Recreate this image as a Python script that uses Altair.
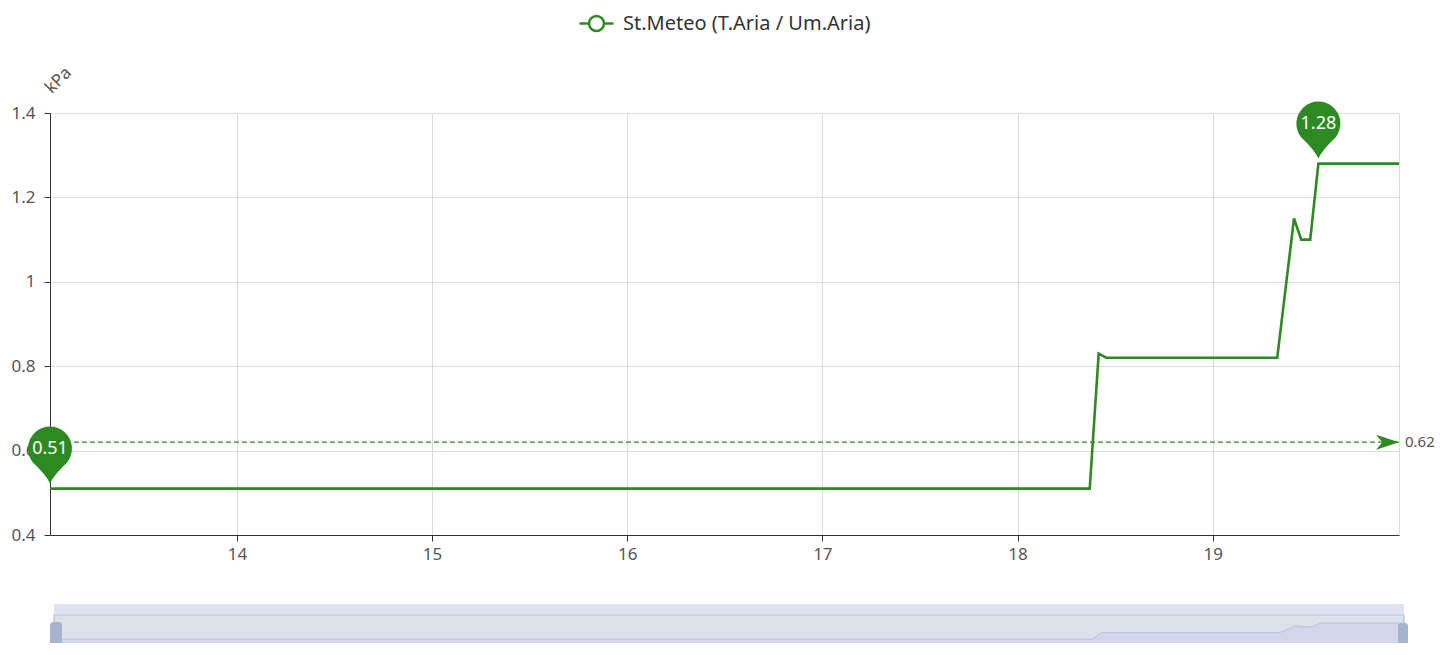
import altair as alt
import pandas as pd

# ---- data ----
series_name = ["St.Meteo (T.Aria / Um.Aria)"]
day = [13.042, 18.370, 18.416, 18.455, 19.331, 19.417, 19.454, 19.500, 19.542, 19.955]
vpd = [0.51, 0.51, 0.83, 0.82, 0.82, 1.15, 1.10, 1.10, 1.28, 1.28]
avg_value = [0.62]
x_ticks = [14, 15, 16, 17, 18, 19]
y_ticks = [0.4, 0.6, 0.8, 1.0, 1.2, 1.4]
y_unit = "kPa"

GREEN = "#2d8a22"
FONT = "Noto Sans"
W, H = 1349, 422

df = pd.DataFrame({"t": day, "v": vpd, "s": series_name * len(day)})
avg_df = pd.DataFrame({"t0": [day[0]], "t1": [day[-1]], "v": avg_value,
                       "lab": [f"{a:.2f}" for a in avg_value]})
one = pd.DataFrame({"a": [0]})

xs = alt.Scale(domain=[day[0], day[-1]], nice=False, zero=False)
ys = alt.Scale(domain=[y_ticks[0], y_ticks[-1]], nice=False, zero=False)

PIN = ("M0,-0.23 Q-0.15,-0.6 -0.777,-1.19 A1,1 0 1 1 0.777,-1.19 "
       "Q0.15,-0.6 0,-0.23 Z")
ARROW = "M0,0 L-2,-0.65 L-1.45,0 L-2,0.65 Z"
LEG = ("M-1,0 L-0.44,0 M0.44,0 L1,0 M0.44,0 A0.44,0.44 0 1 1 -0.44,0 "
       "A0.44,0.44 0 1 1 0.44,0")

line = alt.Chart(df).mark_line(strokeWidth=2.6).encode(
    x=alt.X("t:Q", scale=xs, axis=alt.Axis(
        orient="bottom", values=x_ticks, format="d", title=None, grid=True,
        tickSize=6, labelPadding=5, labelFontSize=17)),
    y=alt.Y("v:Q", scale=ys, axis=alt.Axis(
        orient="left", values=y_ticks, format="~g", title=y_unit, grid=True,
        tickSize=6, labelPadding=9, labelFontSize=17,
        titleAngle=315, titleX=8, titleY=-33, titleAlign="center",
        titleBaseline="middle", titleFontSize=17, titleColor="#555555",
        titleFontWeight="normal", titleFont=FONT)),
    color=alt.Color("s:N", scale=alt.Scale(range=[GREEN]), legend=alt.Legend(
        orient="none", legendX=528, legendY=-108, title=None,
        symbolType=LEG, symbolSize=1156, symbolStrokeWidth=2.5,
        symbolFillColor="white", labelFontSize=20, labelColor="#333333",
        labelFont=FONT, labelOffset=8, labelLimit=0)),
)

pin_base = (alt.Chart(df)
            .transform_joinaggregate(vmin="min(v)", vmax="max(v)")
            .transform_filter("datum.v == datum.vmin || datum.v == datum.vmax")
            .transform_window(rn="row_number()", groupby=["v"],
                              sort=[alt.SortField("t", order="ascending")])
            .transform_filter("datum.rn == 1"))
pins = pin_base.mark_point(shape=PIN, size=1936, filled=True, color=GREEN,
                           opacity=1, strokeWidth=0).encode(
    x=alt.X("t:Q", scale=xs, axis=None),
    y=alt.Y("v:Q", scale=ys, axis=None))
pin_text = pin_base.mark_text(dy=-40, color="white", fontSize=18, font=FONT,
                              baseline="middle").encode(
    x=alt.X("t:Q", scale=xs, axis=None),
    y=alt.Y("v:Q", scale=ys, axis=None),
    text=alt.Text("v:Q", format=".2f"))

avg_rule = alt.Chart(avg_df).mark_rule(color=GREEN, strokeDash=[5, 3],
                                        strokeWidth=1.3).encode(
    x=alt.X("t0:Q", scale=xs, axis=None), x2="t1:Q",
    y=alt.Y("v:Q", scale=ys, axis=None))
arrow = alt.Chart(avg_df).mark_point(shape=ARROW, size=529, filled=True,
                                     color=GREEN, opacity=1, strokeWidth=0).encode(
    x=alt.X("t1:Q", scale=xs, axis=None),
    y=alt.Y("v:Q", scale=ys, axis=None))
avg_lab = alt.Chart(avg_df).mark_text(align="left", dx=6, fontSize=15,
                                      font=FONT, color="#555555").encode(
    x=alt.X("t1:Q", scale=xs, axis=None),
    y=alt.Y("v:Q", scale=ys, axis=None),
    text="lab:N")

# ---- data-zoom slider below the plot ----
sxs = alt.Scale(range=[5, 1351], nice=False, zero=False)
sys_ = alt.Scale(range=[537, 510], nice=False, zero=False)

top_bar = alt.Chart(one).mark_rect(color="#dde3f1").encode(
    x=alt.value(4), x2=alt.value(1354), y=alt.value(491), y2=alt.value(501))
frame = alt.Chart(one).mark_rect(fill="#dde1ec", stroke="#c3c9dc",
                                 strokeWidth=1.5).encode(
    x=alt.value(4), x2=alt.value(1354), y=alt.value(502), y2=alt.value(548))
shadow = alt.Chart(df).mark_area(color="#ccd3e8", line={"color": "#b8c1dd",
                                                        "strokeWidth": 1}).encode(
    x=alt.X("t:Q", scale=sxs, axis=None),
    y=alt.Y("v:Q", scale=sys_, axis=None),
    y2=alt.value(548))
handle_l = alt.Chart(one).mark_rect(color="#a7b4cf", cornerRadius=3).encode(
    x=alt.value(0), x2=alt.value(12), y=alt.value(509), y2=alt.value(537))
handle_r = alt.Chart(one).mark_rect(color="#a7b4cf", cornerRadius=3).encode(
    x=alt.value(1348), x2=alt.value(1358), y=alt.value(510), y2=alt.value(537))

chart = (alt.layer(line, avg_rule, arrow, avg_lab, pins, pin_text,
                   top_bar, frame, shadow, handle_l, handle_r)
         .resolve_scale(x="independent", y="independent")
         .properties(width=W, height=H,
                     autosize=alt.AutoSizeParams(type="none"),
                     padding={"left": 42, "top": 105, "right": 39, "bottom": 108})
         .configure_view(stroke="#dcdcdc")
         .configure_axis(domainColor="#333333", tickColor="#333333",
                         gridColor="#dcdcdc", labelColor="#555555",
                         labelFont=FONT, titleFont=FONT))

chart.save("out.html", embed_options={"renderer": "svg", "actions": False})
